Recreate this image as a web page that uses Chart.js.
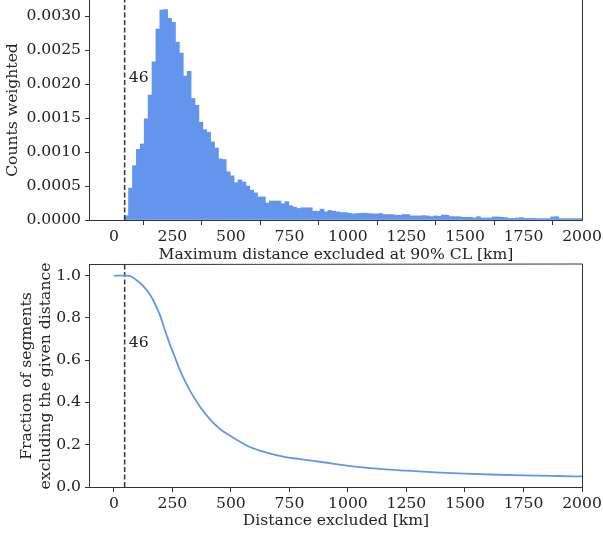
<!DOCTYPE html>
<html>
<head>
<meta charset="utf-8">
<script src="https://cdn.jsdelivr.net/npm/chart.js@4.4.0/dist/chart.umd.min.js"></script>
<style>
  body { margin: 0; background: #fff; width: 603px; height: 535px; position: relative; overflow: hidden; }
  canvas { position: absolute; left: 0; }
  #histChart { top: 0; }
  #fracChart { top: 262px; }
</style>
</head>
<body>
<canvas id="histChart" width="603" height="266"></canvas>
<canvas id="fracChart" width="603" height="273"></canvas>
<script>
// histogram: bins start at the smallest value (46 km), ~16.7 km wide
var binStart = 46;
var binWidth = 16.7;
var histCounts = [
  0.000063, 0.00047, 0.00080, 0.00104, 0.00112, 0.00149, 0.00184, 0.00233, 0.00281, 0.00309,
  0.00310, 0.00297, 0.00291, 0.00262, 0.00246, 0.00212, 0.00219, 0.00179, 0.00169, 0.00144,
  0.00133, 0.00129, 0.00115, 0.00106, 0.00090, 0.00089, 0.00071, 0.00065, 0.00055, 0.00059,
  0.00056, 0.00050, 0.00044, 0.00040, 0.00034, 0.00034, 0.00025, 0.00028, 0.00028, 0.00028,
  0.00024, 0.00027, 0.00021, 0.00019, 0.00017, 0.00018, 0.00018, 0.00018, 0.00013, 0.00013,
  0.00016, 0.00012, 0.00014, 0.00013, 0.00012, 0.00011, 0.00011, 0.00010, 0.00009, 0.000095,
  0.00010, 0.00010, 0.000095, 0.00009, 0.00009, 0.000095, 0.00008, 0.00008, 0.00008, 0.00007,
  0.00007, 0.00008, 0.00008, 0.00006, 0.00006, 0.00006, 0.000065, 0.00006, 0.00005, 0.00006,
  0.000053, 0.000073, 0.00007, 0.00005, 0.000049, 0.000049, 0.00004, 0.00004, 0.00004, 0.00003,
  0.000049, 0.00003, 0.00003, 0.00003, 0.000045, 0.000045, 0.00004, 0.000035, 0.000024, 0.000024,
  0.00003, 0.000035, 0.000024, 0.000024, 0.000024, 0.00002, 0.00002, 0.00002, 0.00002, 0.000045,
  0.000049, 0.00002, 0.00002, 0.00002, 0.00002, 0.00002, 0.00002
];

// fraction of segments excluding a given distance
var fracDist = [0, 46, 68, 97, 125, 154, 175, 197, 218, 239, 261, 282, 303, 325, 368, 410, 453, 500,
  581, 652, 724, 795, 894, 1001, 1108, 1250, 1393, 1500, 1642, 1749, 1892, 2000];
var fracVals = [1.0, 1.0, 0.998, 0.978, 0.951, 0.910, 0.868, 0.813, 0.742, 0.676, 0.613, 0.553, 0.503,
  0.456, 0.380, 0.321, 0.274, 0.240, 0.189, 0.163, 0.144, 0.132, 0.117, 0.100, 0.088, 0.077, 0.068,
  0.063, 0.058, 0.055, 0.052, 0.050];

var minDistance = 46;
var xTicks = [0, 250, 500, 750, 1000, 1250, 1500, 1750, 2000];
var histYTicks = [0, 0.0005, 0.001, 0.0015, 0.002, 0.0025, 0.003];
var fracYTicks = [0, 0.2, 0.4, 0.6, 0.8, 1.0];

var X_MIN = -102, X_MAX = 2000;
var HIST_Y_MAX = 0.00324, FRAC_Y_MAX = 1.05;
var BLUE = '#6495ED';
var DARK = '#333';
var FONT_SIZE = 15.6;

Chart.defaults.font.family = "'DejaVu Serif', serif";
Chart.defaults.font.size = FONT_SIZE;
Chart.defaults.color = '#222';

function fixedTicks(list) {
    return function (scale) {
        scale.ticks = list.map(function (v) { return { value: v }; });
    };
}

// matplotlib style frame (spines)
function framePlugin(withTop) {
    return {
        id: 'frame',
        afterDatasetsDraw: function (chart) {
            var a = chart.chartArea, ctx = chart.ctx;
            ctx.save();
            ctx.strokeStyle = DARK;
            ctx.lineWidth = 1;
            ctx.beginPath();
            ctx.moveTo(a.left - 0.5, a.top - 1);
            ctx.lineTo(a.left - 0.5, a.bottom + 0.5);
            ctx.lineTo(a.right + 0.5, a.bottom + 0.5);
            ctx.lineTo(a.right + 0.5, a.top - 1);
            if (withTop) ctx.lineTo(a.left - 0.5, a.top - 0.5);
            ctx.stroke();
            ctx.restore();
        }
    };
}

function labelPlugin(xv, yv) {
    return {
        id: 'minLabel',
        afterDatasetsDraw: function (chart) {
            var ctx = chart.ctx;
            ctx.save();
            ctx.font = FONT_SIZE + "px 'DejaVu Serif', serif";
            ctx.fillStyle = '#222';
            ctx.textBaseline = 'middle';
            ctx.fillText(String(minDistance), chart.scales.x.getPixelForValue(xv), chart.scales.y.getPixelForValue(yv));
            ctx.restore();
        }
    };
}

function xScale(title, titlePad) {
    return {
        type: 'linear',
        min: X_MIN,
        max: X_MAX,
        offset: false,
        afterBuildTicks: fixedTicks(xTicks),
        afterFit: function (s) {
            s.height = titlePad.h;
            s.paddingLeft = 0; s.paddingRight = 0;
        },
        grid: { drawOnChartArea: false, drawTicks: true, tickLength: 5, color: DARK },
        border: { display: false },
        ticks: { padding: 3, maxRotation: 0, callback: function (v) { return String(v); } },
        title: { display: true, text: title, padding: { top: 0, bottom: titlePad.b } }
    };
}

function yScale(max, list, digits, title, pad) {
    return {
        min: 0,
        max: max,
        afterBuildTicks: fixedTicks(list),
        afterFit: function (s) {
            s.width = 90;
            s.paddingTop = 0; s.paddingBottom = 0;
        },
        grid: { drawOnChartArea: false, drawTicks: true, tickLength: 5, color: DARK },
        border: { display: false },
        ticks: { padding: 4, callback: function (v) { return v.toFixed(digits); } },
        title: { display: true, text: title, padding: { top: pad, bottom: 0 } }
    };
}

var common = {
    responsive: false,
    animation: false,
    plugins: { legend: { display: false }, tooltip: { enabled: false } }
};

new Chart(document.getElementById('histChart').getContext('2d'), {
    type: 'bar',
    data: {
        datasets: [{
            type: 'line',
            data: [{ x: minDistance, y: 0 }, { x: minDistance, y: HIST_Y_MAX }],
            borderColor: DARK,
            borderWidth: 1.5,
            borderDash: [5, 2.5],
            pointRadius: 0,
            order: 0
        }, {
            type: 'bar',
            data: histCounts.map(function (c, i) { return { x: binStart + (i + 0.5) * binWidth, y: c }; }),
            backgroundColor: BLUE,
            borderWidth: 0,
            barPercentage: 1,
            categoryPercentage: 1,
            order: 1
        }]
    },
    options: Object.assign({}, common, {
        layout: { padding: { left: 0, right: 21, top: 0, bottom: 0 } },
        scales: {
            x: xScale('Maximum distance excluded at 90% CL [km]', { h: 46, b: 2 }),
            y: yScale(HIST_Y_MAX, histYTicks, 4, 'Counts weighted', 4)
        }
    }),
    plugins: [framePlugin(false), labelPlugin(64, 0.00209)]
});

new Chart(document.getElementById('fracChart').getContext('2d'), {
    type: 'line',
    data: {
        datasets: [{
            data: fracDist.map(function (d, i) { return { x: d, y: fracVals[i] }; }),
            borderColor: BLUE,
            borderWidth: 1.8,
            pointRadius: 0,
            cubicInterpolationMode: 'monotone',
            fill: false
        }, {
            data: [{ x: minDistance, y: 0 }, { x: minDistance, y: FRAC_Y_MAX }],
            borderColor: DARK,
            borderWidth: 1.5,
            borderDash: [5, 2.5],
            pointRadius: 0,
            fill: false
        }]
    },
    options: Object.assign({}, common, {
        layout: { padding: { left: 0, right: 21, top: 3, bottom: 0 } },
        scales: {
            x: xScale('Distance excluded [km]', { h: 48, b: 5 }),
            y: yScale(FRAC_Y_MAX, fracYTicks, 1, ['Fraction of segments', 'excluding the given distance'], 18)
        }
    }),
    plugins: [framePlugin(true), labelPlugin(64, 0.683)]
});
</script>
</body>
</html>
